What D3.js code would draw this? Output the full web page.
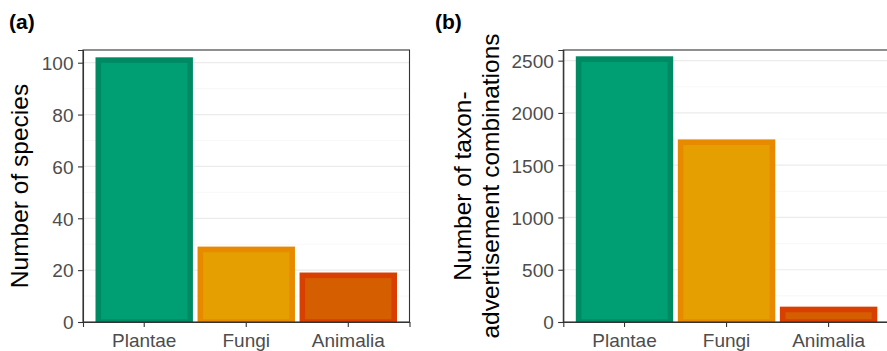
<!DOCTYPE html>
<html>
<head>
<meta charset="utf-8">
<script src="https://cdn.jsdelivr.net/npm/d3@7"></script>
<style>
  html, body { margin: 0; padding: 0; background: #ffffff; }
  svg { display: block; }
  text { font-family: "Liberation Sans", Arial, sans-serif; }
</style>
</head>
<body>
<svg id="chart" width="887" height="351"></svg>
<script>
// ---- data ----
const categories = ["Plantae", "Fungi", "Animalia"];
const speciesCounts = [101, 28, 18];
const comboCounts = [2515, 1720, 120];
const yTicksA = [0, 20, 40, 60, 80, 100];
const yTicksB = [0, 500, 1000, 1500, 2000, 2500];
const yMinorA = [10, 30, 50, 70, 90];
const yMinorB = [250, 750, 1250, 1750, 2250];
const fillColors = ["#009E73", "#E69F00", "#D55E00"];
const strokeColors = ["#008A63", "#E88A00", "#D93F00"];

const svg = d3.select("#chart");

function panel(opts) {
  const { left, right, top, bottom, yMax, values, ticks, minor, tag, tagX, titleLines, titleX, id } = opts;
  const x = d3.scaleBand().domain(categories).range([left, right])
    .paddingInner(0.1).paddingOuter(0.15);
  const y = d3.scaleLinear().domain([0, yMax]).range([bottom, top]);

  const g = svg.append("g");
  // clip
  svg.append("defs").append("clipPath").attr("id", id)
    .append("rect").attr("x", left).attr("y", top)
    .attr("width", right - left).attr("height", bottom - top);

  // grid
  g.selectAll(".minor").data(minor).enter().append("line")
    .attr("x1", left).attr("x2", right)
    .attr("y1", d => y(d)).attr("y2", d => y(d))
    .attr("stroke", "#F3F3F3").attr("stroke-width", 0.7);
  g.selectAll(".major").data(ticks).enter().append("line")
    .attr("x1", left).attr("x2", right)
    .attr("y1", d => y(d)).attr("y2", d => y(d))
    .attr("stroke", "#EBEBEB").attr("stroke-width", 1.2);

  // bars
  g.append("g").attr("clip-path", `url(#${id})`)
    .selectAll("rect").data(categories).enter().append("rect")
    .attr("x", d => x(d))
    .attr("width", x.bandwidth())
    .attr("y", (d, i) => y(values[i]))
    .attr("height", (d, i) => y(0) - y(values[i]))
    .attr("fill", (d, i) => fillColors[i])
    .attr("stroke", (d, i) => strokeColors[i])
    .attr("stroke-width", 5.6);

  // border
  g.append("rect").attr("x", left).attr("y", top)
    .attr("width", right - left).attr("height", bottom - top)
    .attr("fill", "none").attr("stroke", "#333333").attr("stroke-width", 1.1);

  // y axis
  const ya = g.append("g").attr("transform", `translate(${left},0)`)
    .call(d3.axisLeft(y).tickValues(ticks).tickSize(5).tickPadding(4.5).tickFormat(d3.format("d")));
  ya.select(".domain").attr("stroke", "#333333").attr("stroke-width", 1.1);
  ya.selectAll(".tick line").attr("stroke", "#333333").attr("stroke-width", 1.1);
  ya.selectAll(".tick text").attr("fill", "#4D4D4D").style("font-size", "19px")
    .style("font-family", "'Liberation Sans', Arial, sans-serif").attr("dy", "0.36em");

  // x axis
  const xa = g.append("g").attr("transform", `translate(0,${bottom})`)
    .call(d3.axisBottom(x).tickSize(5).tickPadding(6));
  xa.select(".domain").attr("stroke", "#333333").attr("stroke-width", 1.1);
  xa.selectAll(".tick line").attr("stroke", "#333333").attr("stroke-width", 1.1);
  xa.selectAll(".tick text").attr("fill", "#4D4D4D").style("font-size", "19px")
    .style("font-family", "'Liberation Sans', Arial, sans-serif")
    .attr("dy", null).attr("y", 24.5);

  // y title
  const cy = (top + bottom) / 2;
  titleLines.forEach((t, i) => {
    svg.append("text")
      .attr("transform", `translate(${titleX[i]},${cy}) rotate(-90)`)
      .attr("text-anchor", "middle")
      .style("font-size", "24.5px")
      .attr("fill", "#000000")
      .text(t);
  });

  // tag
  svg.append("text").attr("x", tagX).attr("y", 29)
    .style("font-size", "21px").style("font-weight", "bold")
    .attr("fill", "#000000").text(tag);
}

panel({
  id: "clipA", left: 83, right: 409.5, top: 50, bottom: 322, yMax: 104.9,
  values: speciesCounts, ticks: yTicksA, minor: yMinorA,
  tag: "(a)", tagX: 9, titleLines: ["Number of species"], titleX: [27.5]
});
panel({
  id: "clipB", left: 563.3, right: 889.8, top: 50, bottom: 322, yMax: 2602,
  values: comboCounts, ticks: yTicksB, minor: yMinorB,
  tag: "(b)", tagX: 435, titleLines: ["Number of taxon-", "advertisement combinations"], titleX: [471, 498.5]
});
</script>
</body>
</html>
